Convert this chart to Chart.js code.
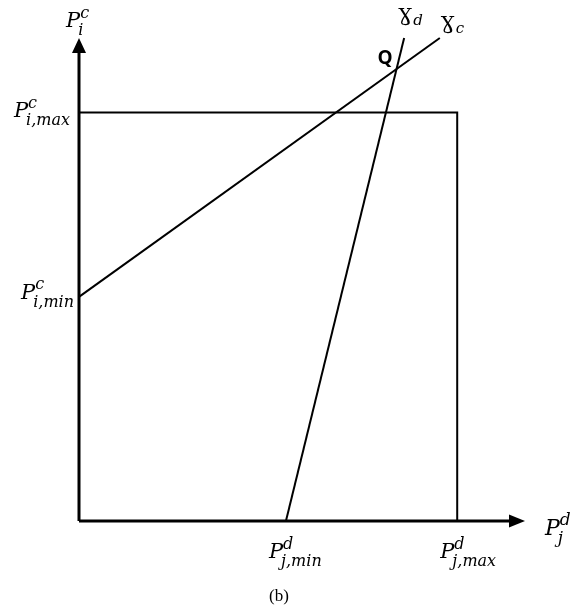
<!DOCTYPE html>
<html>
<head>
<meta charset="utf-8">
<script src="https://cdn.jsdelivr.net/npm/chart.js@4.4.1/dist/chart.umd.min.js"></script>
<style>
  html, body { margin: 0; padding: 0; background: #fff; }
  .wrap { position: relative; width: 576px; height: 610px; }
</style>
</head>
<body>
<div class="wrap"><canvas id="chart"></canvas></div>
<script>
// axes run from 0 to these ends (arrow tips)
const axisEndX = 10
const axisEndY = 10

// operating limits
const pjMin = 4.64   // P_j,min^d
const pjMax = 8.48   // P_j,max^d
const piMin = 4.64   // P_i,min^c
const piMax = 8.46   // P_i,max^c

// upper / right limit box
const boxX = [0, pjMax, pjMax]
const boxY = [piMax, piMax, 0]

// the two lines
const gammaCX = [0, 8.09]
const gammaCY = [piMin, 10]
const gammaDX = [pjMin, 7.29]
const gammaDY = [0, 10]

// tick labels: [base, superscript, subscript]
const xTickValues = [pjMin, pjMax]
const xTickLabels = [['P', 'd', 'j,min'], ['P', 'd', 'j,max']]
const yTickValues = [piMax, piMin]
const yTickLabels = [['P', 'c', 'i,max'], ['P', 'c', 'i,min']]

const mathFont = '"DejaVu Serif", "Liberation Serif", serif'

function pts(xs, ys) {
    return xs.map((x, i) => ({ x: x, y: ys[i] }))
}

function lineSet(xs, ys, width) {
    return {
        data: pts(xs, ys),
        showLine: true,
        borderColor: '#000',
        borderWidth: width,
        pointRadius: 0,
        fill: false,
        clip: 6
    }
}

// where the two lines cross (point Q)
function crossing() {
    const ax = gammaCX[0], ay = gammaCY[0], bx = gammaCX[1], by = gammaCY[1]
    const cx = gammaDX[0], cy = gammaDY[0], dx = gammaDX[1], dy = gammaDY[1]
    const den = (ax - bx) * (cy - dy) - (ay - by) * (cx - dx)
    const t = ((ax - cx) * (cy - dy) - (ay - cy) * (cx - dx)) / den
    return { x: ax + t * (bx - ax), y: ay + t * (by - ay) }
}

// draws P with superscript and subscript, left edge at x, baseline at y
function mathLabel(ctx, x, y, lab, size) {
    const [base, sup, sub] = lab
    const s = size || 21
    const small = Math.round(s * 0.78)
    ctx.font = 'italic ' + s + 'px ' + mathFont
    const wb = ctx.measureText(base).width
    ctx.fillText(base, x, y)
    ctx.font = 'italic ' + small + 'px ' + mathFont
    ctx.fillText(sup, x + wb, y - s * 0.45)
    ctx.fillText(sub, x + wb - 2, y + s * 0.38)
}

function labelWidth(ctx, lab, size) {
    const s = size || 21
    const small = Math.round(s * 0.78)
    ctx.font = 'italic ' + s + 'px ' + mathFont
    const wb = ctx.measureText(lab[0]).width
    ctx.font = 'italic ' + small + 'px ' + mathFont
    return wb - 2 + Math.max(ctx.measureText(lab[1]).width, ctx.measureText(lab[2]).width)
}

const figurePlugin = {
    id: 'figure',
    afterDatasetsDraw(chart) {
        const ctx = chart.ctx
        const xs = chart.scales.x
        const ys = chart.scales.y
        const x0 = xs.getPixelForValue(0)
        const y0 = ys.getPixelForValue(0)
        const xe = xs.getPixelForValue(axisEndX)
        const ye = ys.getPixelForValue(axisEndY)

        ctx.save()
        ctx.fillStyle = '#000'

        // arrow heads
        ctx.beginPath()
        ctx.moveTo(x0, ye)
        ctx.lineTo(x0 - 7, ye + 15)
        ctx.lineTo(x0 + 7, ye + 15)
        ctx.closePath()
        ctx.fill()
        ctx.beginPath()
        ctx.moveTo(xe, y0)
        ctx.lineTo(xe - 16, y0 - 6.5)
        ctx.lineTo(xe - 16, y0 + 6.5)
        ctx.closePath()
        ctx.fill()

        ctx.textBaseline = 'alphabetic'
        ctx.textAlign = 'left'

        // axis names
        mathLabel(ctx, x0 - 13, ye - 11, ['P', 'c', 'i'], 21)
        mathLabel(ctx, xe + 20, y0 + 14, ['P', 'd', 'j'], 22)

        // tick labels on the x axis
        xTickValues.forEach((v, i) => {
            const px = xs.getPixelForValue(v)
            mathLabel(ctx, px - 17, y0 + 37, xTickLabels[i], 21)
        })

        // tick labels on the y axis
        yTickValues.forEach((v, i) => {
            const py = ys.getPixelForValue(v)
            const w = labelWidth(ctx, yTickLabels[i], 21)
            mathLabel(ctx, x0 - (i === 0 ? 9 : 5) - w, py + (i === 0 ? 5 : 2), yTickLabels[i], 21)
        })

        // line names
        const gcx = xs.getPixelForValue(gammaCX[1])
        const gcy = ys.getPixelForValue(gammaCY[1])
        const gdx = xs.getPixelForValue(gammaDX[1])
        const gdy = ys.getPixelForValue(gammaDY[1])
        ctx.font = '20px ' + mathFont
        ctx.fillText('\u0194', gdx - 6, gdy - 15)
        ctx.fillText('\u0194', gcx + 1, gcy - 7)
        ctx.font = 'italic 15px ' + mathFont
        ctx.fillText('d', gdx + 9, gdy - 13)
        ctx.fillText('c', gcx + 16, gcy - 5)

        // point Q
        const q = crossing()
        const qx = xs.getPixelForValue(q.x)
        const qy = ys.getPixelForValue(q.y)
        ctx.font = 'bold 19px "Open Sans", "Liberation Sans", sans-serif'
        ctx.textAlign = 'right'
        ctx.fillText('Q', qx - 4, qy - 5)

        // caption
        ctx.font = '17px "Liberation Serif", "DejaVu Serif", serif'
        ctx.textAlign = 'center'
        ctx.fillText('(b)', (x0 + xe) / 2 - 23, y0 + 80)

        ctx.restore()
    }
}

new Chart(document.getElementById('chart'), {
    type: 'scatter',
    data: {
        datasets: [
            lineSet([0, axisEndX - 0.2], [0, 0], 3),
            lineSet([0, 0], [0, axisEndY - 0.2], 3),
            lineSet(boxX, boxY, 2),
            lineSet(gammaCX, gammaCY, 2),
            lineSet(gammaDX, gammaDY, 2)
        ]
    },
    options: {
        responsive: true,
        maintainAspectRatio: false,
        animation: false,
        layout: { padding: { left: 79, right: 51, top: 38, bottom: 89 } },
        scales: {
            x: { type: 'linear', min: 0, max: axisEndX, display: false },
            y: { type: 'linear', min: 0, max: axisEndY, display: false }
        },
        plugins: {
            legend: { display: false },
            tooltip: { enabled: false }
        }
    },
    plugins: [figurePlugin]
})
</script>
</body>
</html>
